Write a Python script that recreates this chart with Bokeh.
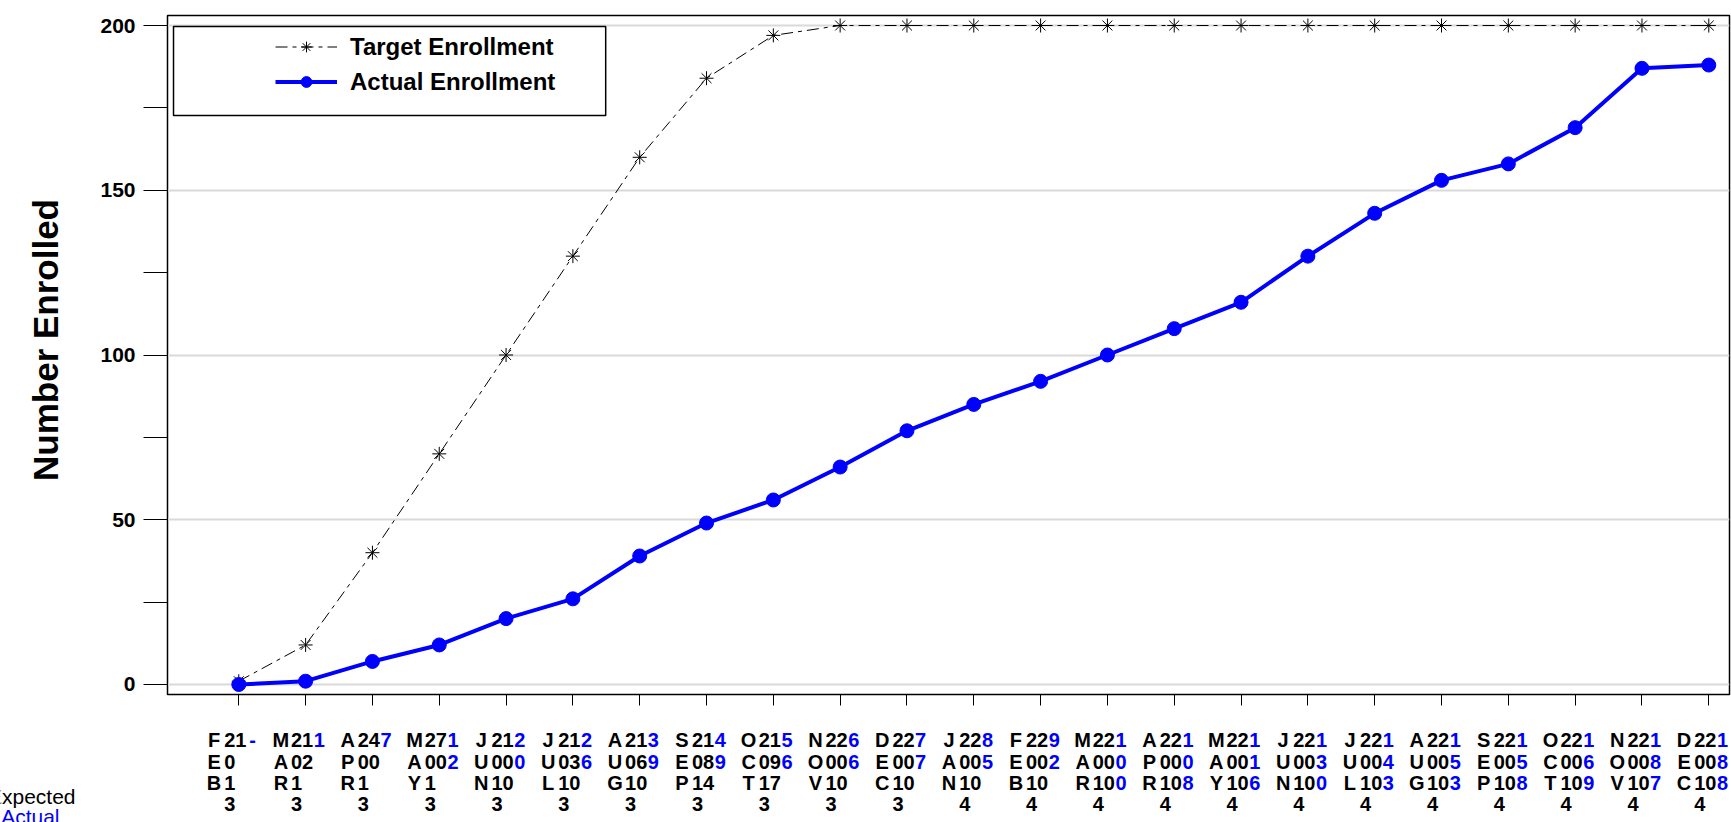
import numpy as np
from bokeh.plotting import figure
from bokeh.layouts import column, row
from bokeh.models import (Range1d, FixedTicker, ColumnDataSource, Legend, LegendItem,
                          BoxAnnotation)
from bokeh.core.properties import value
from bokeh.embed import file_html
from bokeh.resources import INLINE

# ---------------- data ----------------
months = ["FEB", "MAR", "APR", "MAY", "JUN", "JUL", "AUG", "SEP", "OCT", "NOV", "DEC",
          "JAN", "FEB", "MAR", "APR", "MAY", "JUN", "JUL", "AUG", "SEP", "OCT", "NOV", "DEC"]
years = ["2013"] * 11 + ["2014"] * 12
target = [1, 12, 40, 70, 100, 130, 160, 184, 197, 200, 200, 200,
          200, 200, 200, 200, 200, 200, 200, 200, 200, 200, 200]
actual = [0, 1, 7, 12, 20, 26, 39, 49, 56, 66, 77, 85,
          92, 100, 108, 116, 130, 143, 153, 158, 169, 187, 188]
y_ticks = [0, 25, 50, 75, 100, 125, 150, 175, 200]
y_grid = [0, 50, 100, 150, 200]
row_labels = ["Expected", "Actual"]
series_names = ["Target Enrollment", "Actual Enrollment"]
y_title = "Number Enrolled"

FONT = "Liberation Sans"
BLUE = "#0000ff"
W = 1731
TW = 70          # width of the strip holding the y-axis title
H1, H2 = 712, 110

x = list(range(len(months)))
X0, X1 = -1.067, 22.31


def bare(width, height, xr, yr):
    f = figure(width=width, height=height, x_range=xr, y_range=yr, title=None,
               output_backend="svg", toolbar_location=None, min_border=0,
               min_border_left=0, min_border_right=0, min_border_top=0, min_border_bottom=0,
               x_axis_type=None, y_axis_type=None,
               background_fill_color="white", border_fill_color="white")
    f.outline_line_color = None
    f.grid.visible = False
    return f


# ---------------- main chart ----------------
p = figure(width=W - TW, height=H1,
           x_range=Range1d(X0, X1), y_range=Range1d(-3.035, 203.035),
           output_backend="svg", toolbar_location=None,
           min_border_left=167 - TW, min_border_right=2, min_border_top=15, min_border_bottom=18,
           background_fill_color="white", border_fill_color="white")
p.title.visible = False
p.outline_line_color = "black"
p.outline_line_width = 1.5

p.xaxis.ticker = FixedTicker(ticks=x)
p.xaxis.major_label_overrides = {i: "" for i in x}
p.xaxis.major_label_text_font_size = "0px"
p.xaxis.major_label_standoff = 0
p.xaxis.major_tick_in = 0
p.xaxis.major_tick_out = 11
p.xaxis.minor_tick_line_color = None
p.xaxis.axis_line_color = "black"
p.xaxis.major_tick_line_color = "black"

p.yaxis.ticker = FixedTicker(ticks=y_ticks)
p.yaxis.major_label_overrides = {t: "" for t in y_ticks if t not in y_grid}
p.yaxis.major_tick_in = 0
p.yaxis.major_tick_out = 24
p.yaxis.minor_tick_line_color = None
p.yaxis.axis_line_color = "black"
p.yaxis.major_tick_line_color = "black"
p.yaxis.major_label_standoff = 8
p.yaxis.major_label_text_font = FONT
p.yaxis.major_label_text_font_style = "bold"
p.yaxis.major_label_text_font_size = "21px"
p.yaxis.major_label_text_color = "black"

p.xgrid.visible = False
p.ygrid.ticker = FixedTicker(ticks=y_grid)
p.ygrid.grid_line_color = "#d9d9d9"
p.ygrid.grid_line_width = 2

tl = p.line(x, target, line_color="black", line_width=1, line_dash="12 5 4 5")
ts = p.scatter(x, target, marker="asterisk", size=14, line_color="black", line_width=1)
al = p.line(x, actual, line_color=BLUE, line_width=4)
ac = p.scatter(x, actual, marker="circle", size=14, fill_color=BLUE, line_color=BLUE)

box = BoxAnnotation(left=-0.977, right=5.491, bottom=172.7, top=199.7,
                    fill_color="white", fill_alpha=1, line_color="black",
                    line_alpha=1, line_width=1.5)
p.add_layout(box)
legend = Legend(items=[LegendItem(label=series_names[0], renderers=[tl, ts]),
                       LegendItem(label=series_names[1], renderers=[al, ac])],
                location=(108, 598.5), glyph_width=62, glyph_height=27, label_height=27,
                spacing=7, label_standoff=13, padding=0, margin=0,
                border_line_color=None, background_fill_alpha=0,
                label_text_font=FONT, label_text_font_style="bold",
                label_text_font_size="24px", label_text_color="black")
p.add_layout(legend)

# ---------------- y-axis title strip ----------------
pt = bare(TW, H1, Range1d(0, TW), Range1d(H1, 0))
pt.text(x=[44.5], y=[339.5], text=[y_title], angle=np.pi / 2,
        text_align="center", text_baseline="middle",
        text_font=value(FONT), text_font_style="bold", text_font_size="35px",
        text_color="black")

# ---------------- tick-label table below ----------------
unit = (W - 167 - 2) / (X1 - X0)
p2 = bare(W, H2, Range1d(X0 - 167 / unit, X1 + 2 / unit), Range1d(H2, 0))

for fig in (p, p2, pt):
    if "frame_align" in fig.properties():
        fig.frame_align = False

col_off = [-0.370, -0.135, 0.030, 0.205]
row_y = [27, 49, 70, 91]
cx, cy, ct, cc = [], [], [], []
for i in x:
    exp_s = str(target[i])
    act_s = "-" if actual[i] == 0 else str(actual[i])
    cols = [(months[i], "black"), (years[i], "black"), (exp_s, "black"), (act_s, BLUE)]
    for k, (s, col) in enumerate(cols):
        for r, ch in enumerate(s):
            cx.append(i + col_off[k])
            cy.append(row_y[r])
            ct.append(ch)
            cc.append(col)
src = ColumnDataSource(dict(x=cx, y=cy, t=ct, c=cc))
p2.text(x="x", y="y", text="t", text_color="c", source=src,
        text_align="center", text_baseline="alphabetic",
        text_font=value(FONT), text_font_style="bold", text_font_size="20px")

rl_src = ColumnDataSource(dict(x=[X0 - 167 / unit + 75 / unit, X0 - 167 / unit + 59 / unit],
                               y=[84, 104], t=row_labels, c=["black", BLUE]))
p2.text(x="x", y="y", text="t", text_color="c", source=rl_src,
        text_align="right", text_baseline="alphabetic",
        text_font=value(FONT), text_font_size="21px")

layout = column(row(pt, p, spacing=0), p2, spacing=0)
open("out.html", "w").write(file_html(layout, INLINE))
